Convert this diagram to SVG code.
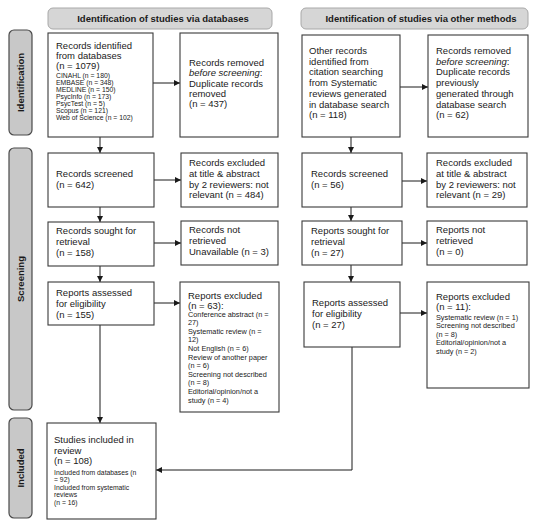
<svg xmlns="http://www.w3.org/2000/svg" width="550" height="527" viewBox="0 0 550 527">
<defs>
<style>
text{font-family:"Liberation Sans",Arial,sans-serif;fill:#1a1a1a}
.box{fill:#fff;stroke:#3a3a3a;stroke-width:1.1}
.hdr{fill:#d6d6d6;stroke:#a8a8a8;stroke-width:1}
.side{fill:#c8c8c8;stroke:#4a4a4a;stroke-width:1.2}
.ht{font-size:9.5px;font-weight:bold;text-anchor:middle}
.st{font-size:9.5px;font-weight:bold;text-anchor:middle}
.m{font-size:9.5px}
.s{font-size:6.8px}
.s2{font-size:7.3px}
.s3{font-size:6.8px}
.c{fill:none;stroke:#1a1a1a;stroke-width:1}
</style>
<marker id="ah" viewBox="0 0 10 10" refX="10" refY="5" markerWidth="6" markerHeight="6" markerUnits="userSpaceOnUse" orient="auto">
<path d="M0,0 L10,5 L0,10 z" fill="#1a1a1a"/>
</marker>
</defs>
<rect width="550" height="527" fill="#fff"/>

<g id="header-databases"><rect class="hdr" x="48" y="8" width="224" height="21" rx="5"/><text class="ht" x="163" y="22">Identification of studies via databases</text></g>
<g id="header-other"><rect class="hdr" x="301" y="8" width="227" height="21" rx="5"/><text class="ht" x="421" y="22">Identification of studies via other methods</text></g>

<g id="phase-identification"><rect class="side" x="9" y="30" width="23" height="105" rx="5"/><text class="st" transform="translate(24,82.5) rotate(-90)">Identification</text></g>
<g id="phase-screening"><rect class="side" x="9" y="148" width="23" height="262" rx="5"/><text class="st" transform="translate(24,279) rotate(-90)">Screening</text></g>
<g id="phase-included"><rect class="side" x="9" y="418" width="23" height="100" rx="5"/><text class="st" transform="translate(24,468) rotate(-90)">Included</text></g>

<g id="connectors">
<line class="c" x1="100" y1="137" x2="100" y2="153" marker-end="url(#ah)"/>
<line class="c" x1="153" y1="83" x2="180" y2="83" marker-end="url(#ah)"/>
<line class="c" x1="154" y1="180" x2="181" y2="180" marker-end="url(#ah)"/>
<line class="c" x1="100" y1="207" x2="100" y2="222" marker-end="url(#ah)"/>
<line class="c" x1="154" y1="243" x2="181" y2="243" marker-end="url(#ah)"/>
<line class="c" x1="100" y1="266" x2="100" y2="282" marker-end="url(#ah)"/>
<line class="c" x1="154" y1="303" x2="180" y2="303" marker-end="url(#ah)"/>
<line class="c" x1="100" y1="325" x2="100" y2="423" marker-end="url(#ah)"/>
<line class="c" x1="351" y1="137" x2="351" y2="153" marker-end="url(#ah)"/>
<line class="c" x1="400" y1="87" x2="428" y2="87" marker-end="url(#ah)"/>
<line class="c" x1="402" y1="181" x2="427" y2="181" marker-end="url(#ah)"/>
<line class="c" x1="351" y1="207" x2="351" y2="221" marker-end="url(#ah)"/>
<line class="c" x1="402" y1="243" x2="427" y2="243" marker-end="url(#ah)"/>
<line class="c" x1="351" y1="265" x2="351" y2="282" marker-end="url(#ah)"/>
<line class="c" x1="400" y1="313" x2="427" y2="313" marker-end="url(#ah)"/>
<polyline class="c" points="352,347 352,470 156,470" marker-end="url(#ah)"/>
</g>

<g id="records-identified"><rect class="box" x="48" y="33" width="105" height="104"/>
<text class="m" x="56" y="49">Records identified</text>
<text class="m" x="56" y="59">from databases</text>
<text class="m" x="56" y="69">(n = 1079)</text>
<text class="s" x="56" y="78.3">CINAHL (n = 180)</text>
<text class="s" x="56" y="85.2">EMBASE (n = 348)</text>
<text class="s" x="56" y="92.1">MEDLINE (n = 150)</text>
<text class="s" x="56" y="99">PsycInfo (n = 173)</text>
<text class="s" x="56" y="105.9">PsycTest (n = 5)</text>
<text class="s" x="56" y="112.8">Scopus (n = 121)</text>
<text class="s" x="56" y="119.7">Web of Science (n = 102)</text>
</g>
<g id="records-removed-db"><rect class="box" x="180" y="33" width="98" height="104"/>
<text class="m" x="189" y="66">Records removed</text>
<text class="m" x="189" y="76.3"><tspan font-style="italic">before screening</tspan>:</text>
<text class="m" x="189" y="86.6">Duplicate records</text>
<text class="m" x="189" y="96.9">removed</text>
<text class="m" x="189" y="107.2">(n = 437)</text>
</g>
<g id="other-records"><rect class="box" x="302" y="35" width="98" height="102"/>
<text class="m" x="309" y="54">Other records</text>
<text class="m" x="309" y="64.7">identified from</text>
<text class="m" x="309" y="75.4">citation searching</text>
<text class="m" x="309" y="86.1">from Systematic</text>
<text class="m" x="309" y="96.8">reviews generated</text>
<text class="m" x="309" y="107.5">in database search</text>
<text class="m" x="309" y="118.2">(n = 118)</text>
</g>
<g id="records-removed-other"><rect class="box" x="428" y="35" width="100" height="102"/>
<text class="m" x="436" y="54">Records removed</text>
<text class="m" x="436" y="64.7"><tspan font-style="italic">before screening</tspan>:</text>
<text class="m" x="436" y="75.4">Duplicate records</text>
<text class="m" x="436" y="86.1">previously</text>
<text class="m" x="436" y="96.8">generated through</text>
<text class="m" x="436" y="107.5">database search</text>
<text class="m" x="436" y="118.2">(n = 62)</text>
</g>

<g id="records-screened-db"><rect class="box" x="48" y="153" width="106" height="54"/>
<text class="m" x="56" y="177">Records screened</text>
<text class="m" x="56" y="187.5">(n = 642)</text>
</g>
<g id="records-excluded-db"><rect class="box" x="181" y="153" width="97" height="54"/>
<text class="m" x="189" y="166">Records excluded</text>
<text class="m" x="189" y="176.8">at title &amp; abstract</text>
<text class="m" x="189" y="187.6">by 2 reviewers: not</text>
<text class="m" x="189" y="198.4">relevant (n = 484)</text>
</g>
<g id="records-screened-other"><rect class="box" x="302" y="153" width="100" height="54"/>
<text class="m" x="311" y="177">Records screened</text>
<text class="m" x="311" y="187.5">(n = 56)</text>
</g>
<g id="records-excluded-other"><rect class="box" x="427" y="153" width="100" height="54"/>
<text class="m" x="436" y="166">Records excluded</text>
<text class="m" x="436" y="176.8">at title &amp; abstract</text>
<text class="m" x="436" y="187.6">by 2 reviewers: not</text>
<text class="m" x="436" y="198.4">relevant (n = 29)</text>
</g>

<g id="sought-db"><rect class="box" x="48" y="222" width="106" height="44"/>
<text class="m" x="56" y="233.5">Records sought for</text>
<text class="m" x="56" y="244.5">retrieval</text>
<text class="m" x="56" y="255.5">(n = 158)</text>
</g>
<g id="not-retrieved-db"><rect class="box" x="181" y="221" width="97" height="44"/>
<text class="m" x="189" y="233">Records not</text>
<text class="m" x="189" y="244">retrieved</text>
<text class="m" x="189" y="255">Unavailable (n = 3)</text>
</g>
<g id="sought-other"><rect class="box" x="302" y="221" width="100" height="44"/>
<text class="m" x="311" y="233.5">Reports sought for</text>
<text class="m" x="311" y="244.5">retrieval</text>
<text class="m" x="311" y="255.5">(n = 27)</text>
</g>
<g id="not-retrieved-other"><rect class="box" x="427" y="221" width="100" height="44"/>
<text class="m" x="436" y="233">Reports not</text>
<text class="m" x="436" y="244">retrieved</text>
<text class="m" x="436" y="255">(n = 0)</text>
</g>

<g id="assessed-db"><rect class="box" x="48" y="282" width="106" height="43"/>
<text class="m" x="56" y="296">Reports assessed</text>
<text class="m" x="56" y="307">for eligibility</text>
<text class="m" x="56" y="318">(n = 155)</text>
</g>
<g id="excluded-db"><rect class="box" x="180" y="282" width="99" height="130"/>
<text class="m" x="188" y="299">Reports excluded</text>
<text class="m" x="188" y="309">(n = 63):</text>
<text class="s2" x="188" y="316.5">Conference abstract (n =</text>
<text class="s2" x="188" y="325.1">27)</text>
<text class="s2" x="188" y="333.7">Systematic review (n =</text>
<text class="s2" x="188" y="342.3">12)</text>
<text class="s2" x="188" y="350.9">Not English (n = 6)</text>
<text class="s2" x="188" y="359.5">Review of another paper</text>
<text class="s2" x="188" y="368.1">(n = 6)</text>
<text class="s2" x="188" y="376.7">Screening not described</text>
<text class="s2" x="188" y="385.3">(n = 8)</text>
<text class="s2" x="188" y="393.9">Editorial/opinion/not a</text>
<text class="s2" x="188" y="402.5">study (n = 4)</text>
</g>
<g id="assessed-other"><rect class="box" x="304" y="282" width="96" height="65"/>
<text class="m" x="312" y="306">Reports assessed</text>
<text class="m" x="312" y="317">for eligibility</text>
<text class="m" x="312" y="328">(n = 27)</text>
</g>
<g id="excluded-other"><rect class="box" x="427" y="282" width="102" height="106"/>
<text class="m" x="436" y="299.5">Reports excluded</text>
<text class="m" x="436" y="309.5">(n = 11):</text>
<text class="s2" x="436" y="320">Systematic review (n = 1)</text>
<text class="s2" x="436" y="328.4">Screening not described</text>
<text class="s2" x="436" y="336.8">(n = 8)</text>
<text class="s2" x="436" y="345.2">Editorial/opinion/not a</text>
<text class="s2" x="436" y="353.6">study (n = 2)</text>
</g>

<g id="studies-included"><rect class="box" x="47" y="423" width="109" height="96"/>
<text class="m" x="54" y="443">Studies included in</text>
<text class="m" x="54" y="453.5">review</text>
<text class="m" x="54" y="464">(n = 108)</text>
<text class="s3" x="54" y="474.5">Included from databases (n</text>
<text class="s3" x="54" y="482">= 92)</text>
<text class="s3" x="54" y="489.5">Included from systematic</text>
<text class="s3" x="54" y="497">reviews</text>
<text class="s3" x="54" y="504.5">(n = 16)</text>
</g>
</svg>
